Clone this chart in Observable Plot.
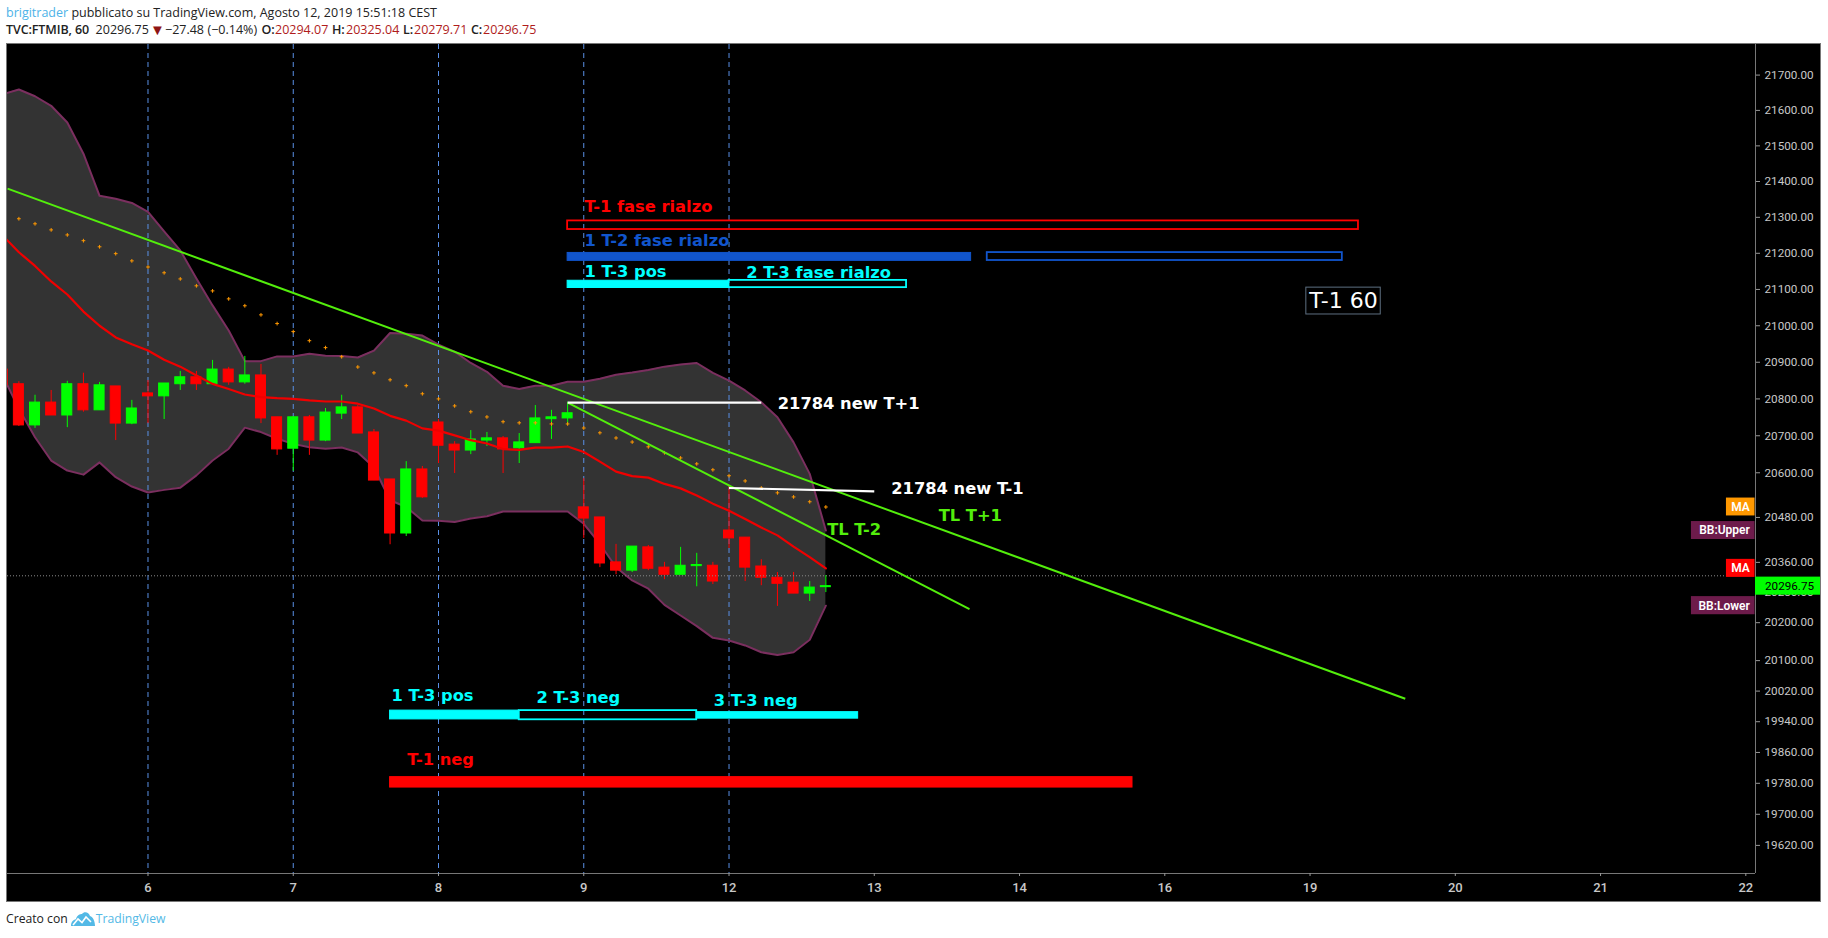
<!DOCTYPE html>
<html>
<head>
<meta charset="utf-8">
<script src="https://cdn.jsdelivr.net/npm/d3@7"></script>
<script src="https://cdn.jsdelivr.net/npm/@observablehq/plot@0.6"></script>
<style>
html,body{margin:0;padding:0;background:#fff;}
body{width:1828px;height:938px;overflow:hidden;font-family:"Open Sans",sans-serif;color:#222;}
#hdr{height:43px;box-sizing:border-box;padding-left:6px;font-size:12.5px;line-height:17px;padding-top:4px;white-space:nowrap;position:relative;}
#hdr .u{color:#4db3e8}
#hdr .r{color:#b01c1c}
#hdr .t{color:#8f1414;font-size:15px;}
#hdr b{font-weight:600;letter-spacing:-.1px}
#l2 span,#l2 b{position:absolute;top:21px;}
#ftr{box-sizing:border-box;padding:4px 0 0 6px;font-size:12.2px;line-height:17px;white-space:nowrap;display:flex;align-items:center;height:28px;}
#ftr .u{color:#53b9e6;font-size:12.2px}
#ftr svg{margin:0 1px 0 3px;}
</style>
</head>
<body>
<div id="hdr">
<div><span class="u">brigitrader</span> pubblicato su TradingView.com, Agosto 12, 2019 15:51:18 CEST</div>
<div id="l2"><b style="left:6px">TVC:FTMIB, 60</b><span style="left:95.6px">20296.75</span><span class="t" style="left:150px">▼</span><span style="left:165px">−27.48</span><span style="left:207.5px">(−0.14%)</span><b style="left:261.6px">O:</b><span class="r" style="left:275px">20294.07</span><b style="left:332px">H:</b><span class="r" style="left:346px">20325.04</span><b style="left:403px">L:</b><span class="r" style="left:414px">20279.71</span><b style="left:471px">C:</b><span class="r" style="left:483px">20296.75</span></div>
</div>
<div id="chart"></div>
<div id="ftr">Creato con<svg width="24" height="15" viewBox="0 0 24 15"><path d="M0 15 C0 10 3 9 5 8 C6 4 9 3 11 3 C13 0 18 1 19 5 C22 6 24 10 24 15 Z" fill="#53b9e6"/><path d="M2 14 L7 8 L11 11.5 L15 6 L20 11" fill="none" stroke="#fff" stroke-width="1.6"/></svg><span class="u">TradingView</span></div>
<script>
// Bar indices run from -1 (the clipped first bar) to 50; index 8 is the first bar of day 6.
const firstBar = -1;
const opens  = [20880,20840,20728,20790,20755,20840,20769,20834,20733,20815,20807,20840,20859,20840,20880,20845,20864,20750,20665,20750,20687,20760,20777,20709,20582,20437,20609,20736,20676,20660,20687,20693,20666,20680,20745,20747,20507,20480,20360,20338,20400,20346,20327,20350,20351,20445,20426,20349,20319,20306,20277,20294.07];
const highs  = [20880,20847,20810,20823,20848,20870,20845,20834,20796,20850,20842,20875,20875,20905,20886,20916,20894,20750,20752,20755,20774,20810,20782,20717,20582,20630,20617,20744,20684,20714,20709,20698,20706,20782,20769,20791,20584,20480,20408,20402,20405,20360,20400,20384,20360,20563,20426,20367,20333,20333,20309,20325.04];
const lows   = [20837,20725,20720,20755,20722,20764,20769,20687,20730,20733,20744,20823,20823,20840,20837,20840,20733,20647,20604,20647,20684,20744,20706,20579,20407,20429,20531,20625,20598,20649,20671,20598,20625,20680,20690,20728,20424,20346,20327,20333,20338,20314,20327,20295,20301,20397,20309,20298,20243,20277,20256,20279.71];
const closes = [20837,20728,20790,20755,20840,20769,20837,20733,20774,20807,20842,20859,20840,20880,20845,20864,20747,20663,20750,20687,20763,20777,20706,20579,20437,20609,20534,20673,20660,20690,20693,20663,20682,20747,20750,20761,20477,20357,20338,20402,20343,20327,20351,20353,20309,20424,20346,20319,20303,20277,20293,20296.75];

const bbUpper = [21646,21659,21640,21613,21566,21478,21360,21352,21340,21315,21261,21208,21130,21056,20987,20903,20903,20916,20916,20923,20918,20917,20913,20932,20980,20978,20973,20948,20929,20898,20874,20836,20827,20836,20836,20847,20847,20855,20866,20872,20879,20888,20894,20898,20871,20850,20823,20791,20750,20682,20597,20445];
const bbLower = [20863,20773,20696,20633,20606,20595,20628,20588,20563,20547,20554,20560,20593,20633,20665,20722,20710,20692,20678,20669,20665,20668,20655,20615,20526,20508,20472,20471,20468,20477,20483,20496,20496,20496,20496,20496,20463,20409,20347,20312,20290,20247,20219,20191,20160,20153,20140,20122,20115,20122,20155,20245];
const maRed   = [21249,21203,21165,21122,21086,21039,21000,20968,20949,20932,20907,20888,20864,20841,20827,20812,20805,20802,20800,20796,20793,20793,20787,20774,20754,20741,20720,20714,20701,20688,20679,20664,20662,20668,20668,20671,20656,20630,20603,20591,20587,20570,20558,20539,20517,20498,20476,20453,20432,20402,20374,20344];
// The orange dotted average starts at bar 0.
const maOrange = [21296,21282,21265,21251,21235,21218,21199,21179,21162,21146,21129,21110,21096,21074,21055,21030,21006,20984,20959,20940,20915,20887,20871,20852,20836,20814,20800,20781,20765,20751,20738,20735,20735,20732,20732,20721,20708,20694,20683,20670,20654,20640,20624,20608,20592,20578,20559,20546,20535,20522,20508];

const dayTicks  = [8,17,26,35,44,53,62,71,80,89,98,107];
const dayLabels = ["6","7","8","9","12","13","14","16","19","20","21","22"];
const dayGrid   = [8,17,26,35,44];
const priceTicks = [21700,21600,21500,21400,21300,21200,21100,21000,20900,20800,20700,20600,20480,20360,20280,20200,20100,20020,19940,19860,19780,19700,19620];
const lastPrice = 20296.75;
const prevClose = 20324.23;

// [bar1, bar2, priceLow, priceHigh, colour]
const filledBoxes = [
  [34,59,21179,21201,"#1155cc"],
  [34,44,21104,21124,"#00ffff"],
  [23,31,19946,19969,"#00ffff"],
  [42,52,19948,19965,"#00ffff"],
  [23,69,19769,19796,"#ff0000"]
];
const outlineBoxes = [
  [34,83,21266,21290,"#ff0000"],
  [60,82,21180,21202,"#1155cc"],
  [44,55,21105,21125,"#00ffff"],
  [31,42,19945,19969,"#00ffff"]
];
// [bar1, price1, bar2, price2]
const trendLines = [
  [-0.7,21380,85.9,20000],
  [34,20790,58.9,20236]
];
const whiteLines = [
  [34,20790,46,20790],
  [44,20559,53,20550]
];
// [text, bar, price, colour]
const notes = [
  ["T-1 fase rialzo",35.05,21328,"#ff0000"],
  ["1 T-2 fase rialzo",35.05,21234,"#1155cc"],
  ["1 T-3 pos",35.05,21150,"#00ffff"],
  ["2 T-3 fase rialzo",45.06,21145,"#00ffff"],
  ["21784 new T+1",47.02,20788,"#ffffff"],
  ["21784 new T-1",54.05,20557,"#ffffff"],
  ["TL T+1",56.99,20485,"#53ee0c"],
  ["TL T-2",50.08,20447,"#53ee0c"],
  ["1 T-3 pos",23.09,20007,"#00ffff"],
  ["2 T-3 neg",32.07,20002,"#00ffff"],
  ["3 T-3 neg",43.06,19995,"#00ffff"],
  ["T-1 neg",24.06,19840,"#ff0000"]
];
const boxNote = {text:"T-1 60", bar1:79.77, bar2:84.38, low:21031, high:21105};
// [text, price, left bar edge, fill]
const tags = [
  ["MA",20508,105.8,"#ff9800"],
  ["BB:Upper",20445,103.63,"#6d1b4b"],
  ["MA",20344,105.8,"#ff0000"],
  ["BB:Lower",20245,103.63,"#6d1b4b"]
];

const bars = opens.map((o,k)=>({i:k+firstBar,o,h:highs[k],l:lows[k],c:closes[k]}));
const up = bars.filter(d=>d.c>d.o), down = bars.filter(d=>d.c<=d.o);
const series = bbUpper.map((u,k)=>({i:k+firstBar,u,lo:bbLower[k],ma:maRed[k]}));
const dots = maOrange.map((v,k)=>({i:k,v}));
const hw = 0.31;
const noteFont = '"DejaVu Sans",sans-serif';
const axisFont = 'Roboto,sans-serif';
const xMin = -0.705, xMax = 107.6, xRight = 111.69;

const bodyMark = (data,col)=>Plot.rect(data,{x1:d=>d.i-hw,x2:d=>d.i+hw,y1:d=>Math.min(d.o,d.c),y2:d=>Math.max(d.o,d.c),fill:col,stroke:col,strokeWidth:1,clip:true});
const wickMark = (data,col)=>Plot.ruleX(data,{x:"i",y1:"l",y2:"h",stroke:col,strokeWidth:1,clip:true});
const segMark = (rows,col,w)=>Plot.link(rows,{x1:d=>d[0],y1:d=>d[1],x2:d=>d[2],y2:d=>d[3],stroke:col,strokeWidth:w,clip:true});

const chart = Plot.plot({
  width:1815, height:859,
  marginLeft:1, marginRight:66, marginTop:1, marginBottom:29,
  x:{domain:[xMin,xMax]},
  y:{type:"log",domain:[19548,21787]},
  style:{background:"#000",display:"block",marginLeft:"6px",maxWidth:"none",outline:"1px solid #777",outlineOffset:"-1px"},
  marks:[
    Plot.areaY(series,{x:"i",y1:"lo",y2:"u",fill:"#333333",clip:true}),
    Plot.ruleX(dayGrid,{stroke:"#5a90e6",strokeWidth:1,strokeDasharray:"5 4"}),
    Plot.line(series,{x:"i",y:"u",stroke:"#7b2f5f",strokeWidth:2,clip:true}),
    Plot.line(series,{x:"i",y:"lo",stroke:"#7b2f5f",strokeWidth:2,clip:true}),
    wickMark(up,"#00ff00"), wickMark(down,"#ff0000"),
    bodyMark(up,"#00ff00"), bodyMark(down,"#ff0000"),
    Plot.line(series,{x:"i",y:"ma",stroke:"#f00000",strokeWidth:2.2,clip:true}),
    Plot.dot(dots,{x:"i",y:"v",symbol:"plus",r:1.3,stroke:"#ff9800",strokeWidth:1}),
    Plot.ruleY([prevClose],{x1:xMin,x2:105.8,stroke:"#8a8a8a",strokeWidth:1,strokeDasharray:"1 2"}),
    segMark(trendLines,"#53ee0c",2),
    segMark(whiteLines,"#ffffff",2.2),
    Plot.rect(filledBoxes,{x1:d=>d[0],x2:d=>d[1],y1:d=>d[2],y2:d=>d[3],fill:d=>d[4],stroke:d=>d[4],strokeWidth:1}),
    Plot.rect(outlineBoxes,{x1:d=>d[0],x2:d=>d[1],y1:d=>d[2],y2:d=>d[3],fill:"none",stroke:d=>d[4],strokeWidth:1.8}),
    Plot.text(notes,{x:d=>d[1],y:d=>d[2],text:d=>d[0],fill:d=>d[3],textAnchor:"start",lineAnchor:"middle",fontFamily:noteFont,fontWeight:"bold",fontSize:16.3}),
    Plot.rect([boxNote],{x1:"bar1",x2:"bar2",y1:"low",y2:"high",fill:"none",stroke:"#5d6f80",strokeWidth:1}),
    Plot.text([boxNote],{x:d=>(d.bar1+d.bar2)/2,y:d=>Math.sqrt(d.low*d.high),text:"text",fill:"#fff",fontFamily:noteFont,fontSize:22}),
    Plot.rect(tags,{x1:d=>d[2],x2:xMax-0.03,y1:d=>d[1]-24,y2:d=>d[1]+24,fill:d=>d[3]}),
    Plot.text(tags,{x:107.25,y:d=>d[1],text:d=>d[0],fill:"#fff",textAnchor:"end",lineAnchor:"middle",fontFamily:axisFont,fontWeight:"600",fontSize:12}),
    Plot.ruleX([xMax],{stroke:"#777",strokeWidth:1}),
    Plot.ruleY([19548],{stroke:"#777",strokeWidth:1}),
    Plot.axisY({anchor:"right",ticks:priceTicks,tickFormat:d=>d.toFixed(2),tickSize:4,tickPadding:5,stroke:"#999",color:"#c8c8c8",fontFamily:axisFont,fontSize:11.7,label:null}),
    Plot.axisX({anchor:"bottom",ticks:dayTicks,tickFormat:d=>dayLabels[dayTicks.indexOf(d)],tickSize:3,tickPadding:6,stroke:"#999",color:"#c8c8c8",fontFamily:axisFont,fontSize:13,fontWeight:"500",label:null}),
    Plot.rect([lastPrice],{x1:xMax,x2:xRight,y1:d=>d-24,y2:d=>d+24,fill:"#00ff00"}),
    Plot.text([lastPrice],{x:xMax,y:d=>d,dx:9.5,text:d=>d.toFixed(2),fill:"#000",textAnchor:"start",lineAnchor:"middle",fontFamily:axisFont,fontSize:11.7})
  ]
});
document.getElementById("chart").append(chart);
</script>
</body>
</html>
